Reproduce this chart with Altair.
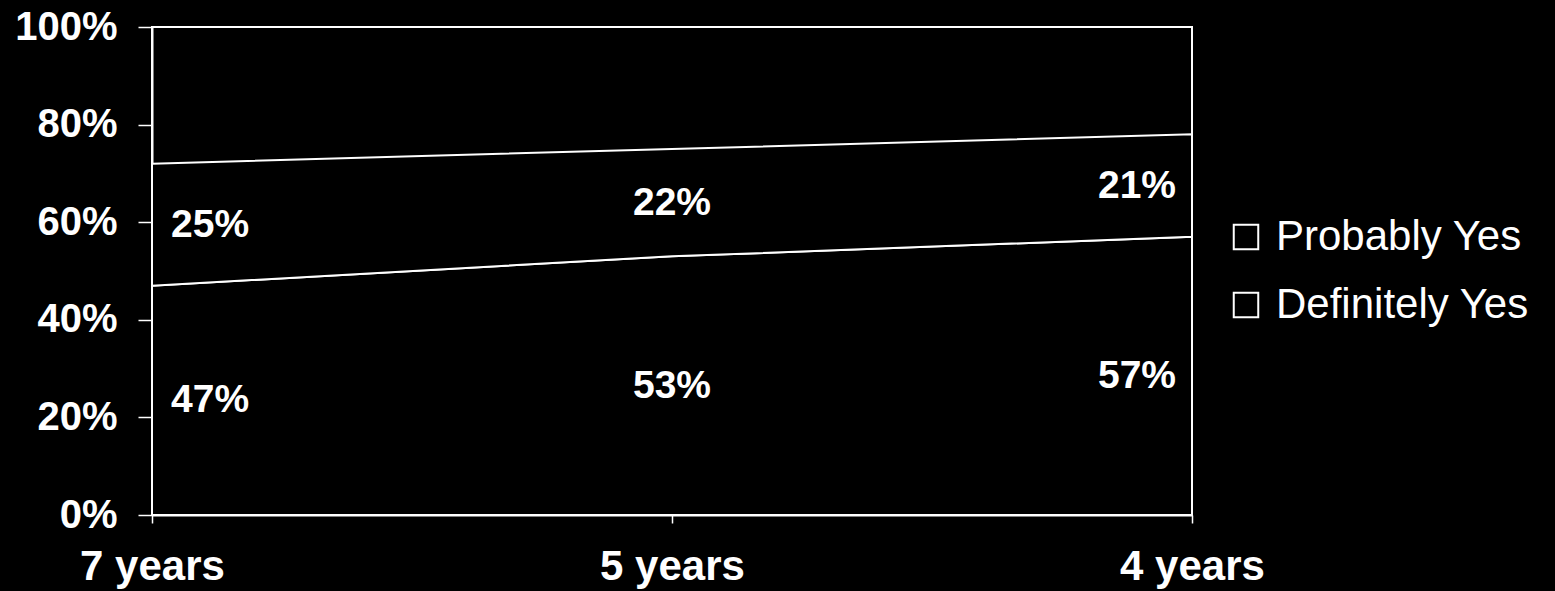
import altair as alt
import pandas as pd

# Survey answers by time horizon (percent of respondents)
periods = ["7 years", "5 years", "4 years"]
definitely_yes = [47, 53, 57]
probably_yes = [25, 22, 21]
series_names = ["Probably Yes", "Definitely Yes"]

rows = []
for i, p in enumerate(periods):
    rows.append({"period": p, "series": "Definitely Yes", "value": definitely_yes[i]})
    rows.append({"period": p, "series": "Probably Yes", "value": probably_yes[i]})
df = pd.DataFrame(rows)

FONT = "Liberation Sans"
WHITE = "white"

base = (
    alt.Chart(df)
    .transform_calculate(
        ord="datum.series === 'Definitely Yes' ? 0 : 1",
        label="datum.value + '%'",
    )
    .transform_stack(
        stack="value",
        groupby=["period"],
        as_=["y0", "y1"],
        sort=[alt.SortField("ord", order="ascending")],
    )
    .transform_calculate(mid="(datum.y0 + datum.y1) / 2")
)

x_enc = alt.X(
    "period:N",
    sort=periods,
    scale=alt.Scale(type="point", padding=0),
    axis=alt.Axis(
        title=None,
        labelAngle=0,
        labelFont=FONT,
        labelFontSize=42,
        labelFontWeight="bold",
        labelColor=WHITE,
        labelPadding=23,
        labelFlush=False,
        labelOverlap=False,
        labelBound=False,
        tickColor=WHITE,
        tickSize=8,
        tickWidth=1.5,
        domainColor=WHITE,
        domainWidth=2,
        grid=False,
    ),
)

areas = base.mark_area(stroke=WHITE, strokeWidth=2, opacity=1).encode(
    x=x_enc,
    y=alt.Y(
        "y1:Q",
        scale=alt.Scale(domain=[0, 100], nice=False),
        axis=alt.Axis(
            title=None,
            values=[0, 20, 40, 60, 80, 100],
            labelExpr="datum.value + '%'",
            labelFont=FONT,
            labelFontSize=40,
            labelFontWeight="bold",
            labelColor=WHITE,
            labelPadding=21,
            tickColor=WHITE,
            tickSize=14,
            tickWidth=1.5,
            domainColor=WHITE,
            domainWidth=2,
            grid=False,
        ),
    ),
    y2="y0:Q",
    color=alt.Color(
        "series:N",
        scale=alt.Scale(domain=series_names, range=["black", "black"]),
        legend=alt.Legend(
            title=None,
            orient="none",
            legendX=1073,
            legendY=189,
            symbolType="square",
            symbolSize=600,
            symbolFillColor="black",
            symbolStrokeColor=WHITE,
            symbolStrokeWidth=2,
            labelFont=FONT,
            labelFontSize=42,
            labelColor=WHITE,
            labelOffset=9,
            labelLimit=0,
            rowPadding=26,
        ),
    ),
    order=alt.Order("ord:Q"),
)


def value_labels(period, align, dx):
    return (
        base.transform_filter(alt.datum.period == period)
        .mark_text(
            font=FONT,
            fontSize=39,
            fontWeight="bold",
            color=WHITE,
            align=align,
            baseline="middle",
            dx=dx,
        )
        .encode(x=alt.X("period:N", sort=periods), y=alt.Y("mid:Q"), text="label:N")
    )


labels = (
    value_labels("7 years", "left", 19)
    + value_labels("5 years", "center", 0)
    + value_labels("4 years", "right", -16)
)

chart = (
    alt.layer(areas, labels)
    .properties(
        width=1040,
        height=488,
        background="black",
        padding={"left": 152, "top": 27, "right": 363, "bottom": 76},
        autosize=alt.AutoSizeParams(type="none"),
    )
    .configure_view(stroke=WHITE, strokeWidth=2)
)

chart.save("out.html", embed_options={"renderer": "svg", "actions": False})
